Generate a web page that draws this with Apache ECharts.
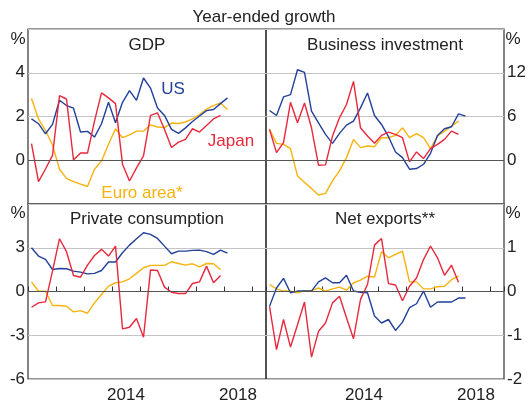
<!DOCTYPE html>
<html>
<head>
<meta charset="utf-8">
<script src="https://cdn.jsdelivr.net/npm/echarts@6/dist/echarts.min.js"></script>
<style>
  html, body { margin: 0; padding: 0; background: #fff; }
  #chart { width: 529px; height: 405px; }
</style>
</head>
<body>
<div id="chart"></div>
<script>
// quarterly observations, year-ended growth (%)
const quarters = [
  '2011Q1', '2011Q2', '2011Q3', '2011Q4', '2012Q1', '2012Q2', '2012Q3', '2012Q4',
  '2013Q1', '2013Q2', '2013Q3', '2013Q4', '2014Q1', '2014Q2', '2014Q3', '2014Q4',
  '2015Q1', '2015Q2', '2015Q3', '2015Q4', '2016Q1', '2016Q2', '2016Q3', '2016Q4',
  '2017Q1', '2017Q2', '2017Q3', '2017Q4', '2018Q1'
]
const yearLabels = [2014, 2018]

// GDP
const gdpUS = [1.89, 1.67, 1.21, 1.64, 2.74, 2.5, 2.38, 1.29, 1.32, 1.06, 1.67, 2.65, 1.71, 2.65, 3.18, 2.74, 3.76, 3.3, 2.39, 2.05, 1.41, 1.23, 1.48, 1.77, 2.02, 2.27, 2.32, 2.59, 2.85]
const gdpJapan = [0.76, -0.98, -0.4, 0.22, 2.95, 2.8, 0.01, 0.33, 0.33, 1.79, 3.08, 2.85, 2.59, -0.18, -0.95, -0.35, 0.2, 2.05, 2.17, 1.41, 0.58, 0.83, 0.95, 1.44, 1.29, 1.59, 1.89, 2.05]
const gdpEuro = [2.82, 1.89, 1.36, 0.7, -0.41, -0.83, -0.98, -1.09, -1.2, -0.41, -0.03, 0.73, 1.44, 1.03, 1.16, 1.33, 1.33, 1.62, 1.52, 1.49, 1.7, 1.68, 1.75, 1.89, 2.09, 2.34, 2.5, 2.62, 2.32]

// Business investment
const invUS = [6.82, 6.14, 8.68, 9.0, 12.41, 12.05, 6.73, 5.14, 3.55, 2.32, 3.68, 4.82, 5.36, 7.18, 9.23, 6.14, 4.91, 3.23, 1.14, 0.36, -1.23, -1.14, -0.55, 0.95, 3.41, 4.32, 4.59, 6.36, 6.05]
const invJapan = [4.23, 1.05, 2.41, 7.95, 5.14, 7.86, 4.45, -0.68, -0.64, 3.32, 5.82, 7.64, 10.82, 4.45, 3.32, 2.32, 3.41, 3.86, 3.55, 3.09, -0.23, 1.14, 0.23, 1.59, 2.18, 2.86, 4.0, 3.55]
const invEuro = [4.23, 2.32, 2.18, 1.59, -2.14, -3.05, -3.86, -4.77, -4.55, -2.82, -1.45, 0.36, 2.86, 1.73, 1.95, 1.86, 3.09, 3.09, 3.41, 4.45, 3.09, 3.64, 3.09, 1.59, 3.32, 4.0, 4.68, 5.36]

// Private consumption
const conUS = [3.0, 2.43, 2.2, 1.51, 1.58, 1.56, 1.4, 1.33, 1.21, 1.24, 1.44, 2.02, 2.02, 2.66, 3.18, 3.62, 4.03, 3.92, 3.64, 3.11, 2.59, 2.77, 2.77, 2.82, 2.84, 2.73, 2.54, 2.84, 2.63]
const conJapan = [-1.08, -0.78, -0.71, 1.4, 3.62, 2.73, 1.1, 0.98, 1.81, 2.47, 2.89, 2.43, 3.11, -2.56, -2.45, -1.85, -3.14, 1.47, 1.44, 0.3, -0.05, -0.14, -0.14, 0.55, 0.66, 1.74, 0.6, 1.1]
const conEuro = [0.66, 0.02, 0.02, -0.96, -0.96, -1.01, -1.4, -1.31, -1.49, -0.78, -0.21, 0.37, 0.6, 0.66, 0.87, 1.24, 1.63, 1.79, 1.79, 1.79, 2.04, 1.92, 1.81, 1.9, 1.69, 1.92, 1.9, 1.51]

// Net exports (contribution, ppt)
const nxUS = [-0.34, 0.08, 0.3, -0.03, 0.01, 0.01, 0.01, 0.22, 0.31, 0.2, 0.2, 0.37, 0.01, -0.02, -0.03, -0.56, -0.72, -0.64, -0.89, -0.7, -0.37, -0.28, 0.01, -0.36, -0.24, -0.24, -0.24, -0.15, -0.15]
const nxJapan = [-0.34, -1.33, -0.64, -1.27, -0.76, -0.24, -1.5, -0.91, -0.72, -0.26, -0.11, -0.6, -1.08, -0.18, 0.16, 1.06, 1.21, 0.18, 0.15, -0.21, 0.12, 0.31, 0.73, 1.04, 0.77, 0.37, 0.6, 0.21]
const nxEuro = [0.16, 0.06, 0.01, 0.01, -0.03, 0.02, 0.02, 0.08, 0.01, 0.06, 0.1, 0.03, 0.2, 0.26, 0.35, 0.33, 0.91, 0.77, 0.85, 0.92, 0.22, 0.22, 0.06, 0.06, 0.11, 0.12, 0.27, 0.35]

const cUS = '#23409a'
const cJapan = '#e8283c'
const cEuro = '#f8b20e'
const font = 'Arial, "Liberation Sans", sans-serif'

function toX(q) {
  return +q.slice(0, 4) + (+q.slice(5) - 0.5) / 4
}
function pairs(vals) {
  return vals.map((v, i) => [toX(quarters[i]), v])
}

const chart = echarts.init(document.getElementById('chart'))

const panels = [
  { left: 28, top: 29, min: -2, max: 6, step: 2, side: 'left', bottom: false, data: [gdpEuro, gdpUS, gdpJapan] },
  { left: 266, top: 29, min: -6, max: 18, step: 6, side: 'right', bottom: false, data: [invEuro, invUS, invJapan] },
  { left: 28, top: 204, min: -6, max: 6, step: 3, side: 'left', bottom: true, data: [conEuro, conUS, conJapan] },
  { left: 266, top: 204, min: -2, max: 2, step: 1, side: 'right', bottom: true, data: [nxEuro, nxUS, nxJapan] }
]
const colors = [cEuro, cUS, cJapan]

const grid = []
const xAxis = []
const yAxis = []
const series = []

panels.forEach((p, k) => {
  grid.push({
    left: p.left, top: p.top, width: 238, height: 175,
    show: true, borderColor: '#333', borderWidth: 1.2, backgroundColor: 'transparent'
  })
  xAxis.push({
    type: 'value', gridIndex: k, min: 2011, max: 2019.5, interval: 1,
    axisLine: { show: false },
    splitLine: { show: false },
    axisTick: { show: p.bottom, inside: true, length: 5, lineStyle: { color: '#333', width: 1 } },
    axisLabel: {
      show: p.bottom,
      customValues: yearLabels.map(y => y + 0.5),
      formatter: v => String(Math.floor(v)),
      color: '#222', fontSize: 17, fontFamily: font, margin: 8
    }
  })
  yAxis.push({
    type: 'value', gridIndex: k, position: p.side,
    min: p.min, max: p.max, interval: p.step,
    axisLine: { show: false },
    axisTick: { show: false },
    splitLine: { show: true, lineStyle: { color: '#c4c4c4', width: 1 } },
    axisLabel: {
      color: '#222', fontSize: 17, fontFamily: font, margin: 3,
      formatter: v => {
        if (v === p.max) return ''
        if (v === p.min && !p.bottom) return ''
        return String(v)
      }
    }
  })
  p.data.forEach((vals, j) => {
    const s = {
      type: 'line', xAxisIndex: k, yAxisIndex: k,
      data: pairs(vals), showSymbol: false, silent: true,
      lineStyle: { color: colors[j], width: 1.4 },
      itemStyle: { color: colors[j] }
    }
    if (j === 0) {
      s.markLine = {
        silent: true, symbol: 'none', label: { show: false },
        lineStyle: { color: '#555', width: 1.2, type: 'solid' },
        data: [{ yAxis: 0 }]
      }
    }
    series.push(s)
  })
})

function txt(x, y, text, color, align, size) {
  return {
    type: 'text', x: x, y: y, silent: true,
    style: {
      text: text, fill: color || '#222', font: (size || 17) + 'px ' + font,
      textAlign: align || 'center', textVerticalAlign: 'middle'
    }
  }
}

chart.setOption({
  animation: false,
  grid: grid,
  xAxis: xAxis,
  yAxis: yAxis,
  series: series,
  graphic: [
    txt(264, 17, 'Year-ended growth'),
    txt(147, 45, 'GDP'),
    txt(385, 45, 'Business investment'),
    txt(147, 219, 'Private consumption'),
    txt(385, 219, 'Net exports**'),
    txt(18, 39, '%'),
    txt(18, 213, '%'),
    txt(513, 39, '%'),
    txt(513, 213, '%'),
    txt(173, 89, 'US', cUS),
    txt(231, 141, 'Japan', cJapan),
    txt(142, 193, 'Euro area*', cEuro)
  ]
})
</script>
</body>
</html>
